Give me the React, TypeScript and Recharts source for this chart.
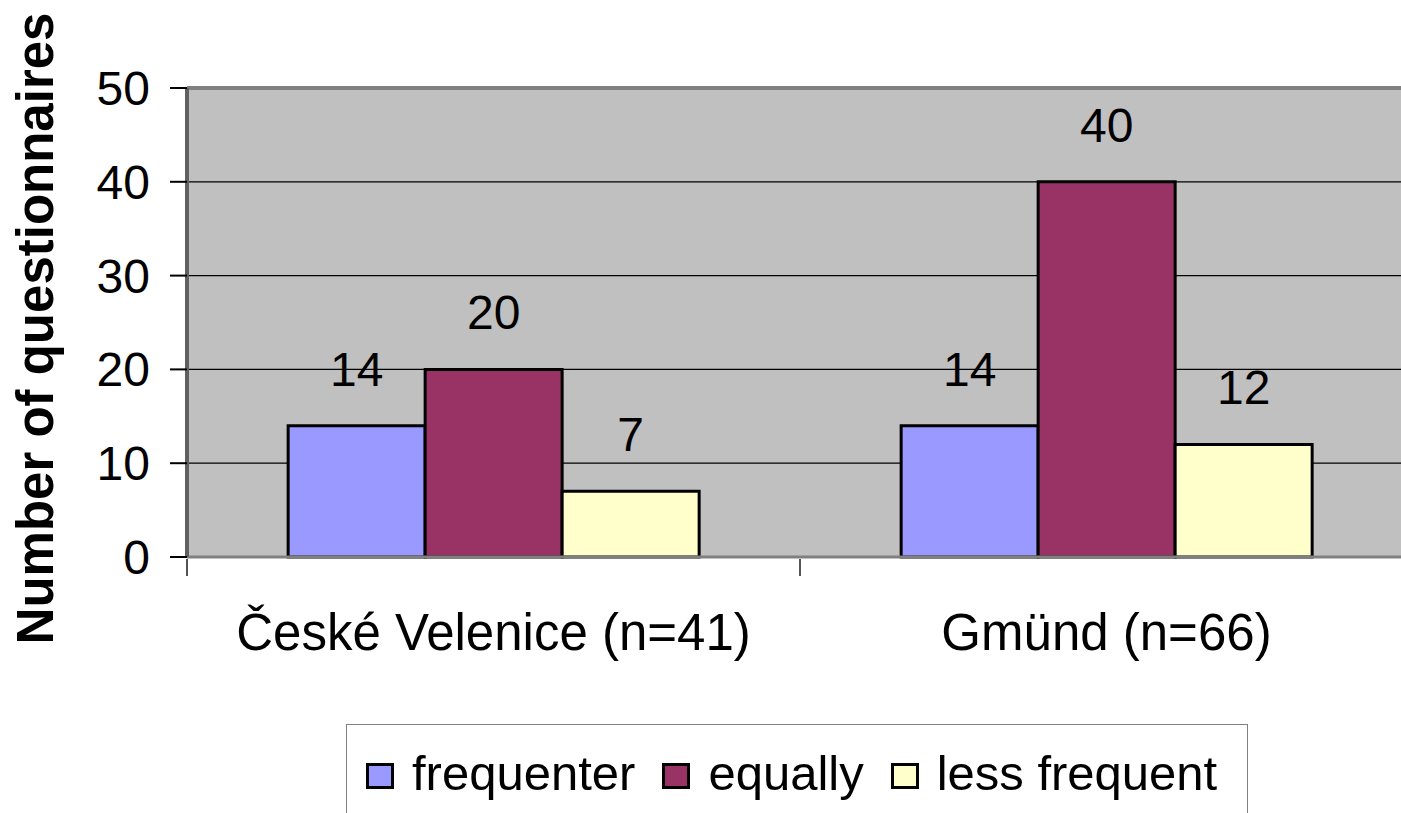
import { Bar, BarChart, CartesianGrid, Label, LabelList, Legend, ReferenceLine, XAxis, YAxis } from 'recharts'

const categories = ['České Velenice (n=41)', 'Gmünd (n=66)']
const frequenter = [14, 14]
const equally = [20, 40]
const lessFrequent = [7, 12]
const yTicks = [0, 10, 20, 30, 40, 50]

const seriesList = [
  { key: 'frequenter', name: 'frequenter', color: '#9999FF' },
  { key: 'equally', name: 'equally', color: '#993366' },
  { key: 'lessFrequent', name: 'less frequent', color: '#FFFFCC' }
]

const data = categories.map((name, i) => ({
  name,
  frequenter: frequenter[i],
  equally: equally[i],
  lessFrequent: lessFrequent[i]
}))

const FONT = '"Liberation Sans", Arial, sans-serif'
const CHART_W = 1420
const CHART_H = 860
const X_AXIS_H = 30
const MARGIN = { top: 88, right: 7, left: 0, bottom: 303 - X_AXIS_H }
const Y_AXIS_W = 187
const BAND = (CHART_W - MARGIN.left - MARGIN.right - Y_AXIS_W) / categories.length

function CategoryTick(props: any) {
  const { x, y, payload, index } = props
  const isLast = index === categories.length - 1
  return (
    <g>
      <line x1={x - BAND / 2} x2={x - BAND / 2} y1={y} y2={y + 17} stroke="#555" strokeWidth={2} />
      {isLast && (
        <line x1={x + BAND / 2} x2={x + BAND / 2} y1={y} y2={y + 17} stroke="#555" strokeWidth={2} />
      )}
      <text x={x} y={y + 91} textAnchor="middle" fontSize={51} fontFamily={FONT} fill="#000">
        {payload.value}
      </text>
    </g>
  )
}

function LegendBox() {
  return (
    <div
      style={{
        width: 902,
        height: 120,
        border: '1.5px solid #808080',
        boxSizing: 'border-box',
        display: 'flex',
        alignItems: 'flex-start',
        paddingLeft: 19,
        paddingTop: 20,
        fontFamily: FONT,
        fontSize: 49,
        color: '#000',
        background: '#fff'
      }}
    >
      {seriesList.map(s => (
        <div key={s.key} style={{ display: 'flex', alignItems: 'center', marginRight: 27 }}>
          <span
            style={{
              width: 28,
              height: 26,
              background: s.color,
              border: '3px solid #000',
              boxSizing: 'border-box',
              marginRight: 18,
              marginTop: 6
            }}
          />
          <span style={{ lineHeight: '56px' }}>{s.name}</span>
        </div>
      ))}
    </div>
  )
}

export default function App() {
  return (
    <div
      style={{
        position: 'absolute',
        left: 0,
        top: 0,
        width: 1401,
        height: 813,
        overflow: 'hidden',
        background: '#fff'
      }}
    >
      <BarChart
        width={CHART_W}
        height={CHART_H}
        data={data}
        margin={MARGIN}
        barCategoryGap="16.5%"
        barGap={0}
      >
        <CartesianGrid vertical={false} fill="#C0C0C0" stroke="#000" strokeWidth={1.2} />
        <XAxis
          dataKey="name"
          height={X_AXIS_H}
          tickSize={0}
          tickLine={false}
          tick={<CategoryTick />}
          interval={0}
          axisLine={{ stroke: '#808080', strokeWidth: 3 }}
        />
        <YAxis
          width={Y_AXIS_W}
          domain={[0, 50]}
          ticks={yTicks}
          interval={0}
          tickSize={17}
          tickMargin={20}
          tickLine={{ stroke: '#000', strokeWidth: 2 }}
          axisLine={{ stroke: '#606060', strokeWidth: 4 }}
          tick={{ fontSize: 48, fontFamily: FONT, fill: '#000' }}
        >
          <Label
            content={(p: any) => {
              const vb = p.viewBox
              const cx = 35
              const cy = vb.y + vb.height / 2 + 6
              return (
                <text
                  x={cx}
                  y={cy}
                  transform={`rotate(-90 ${cx} ${cy})`}
                  textAnchor="middle"
                  dominantBaseline="central"
                  fontSize={51}
                  fontWeight="bold"
                  fontFamily={FONT}
                  fill="#000"
                >
                  Number of questionnaires
                </text>
              )
            }}
          />
        </YAxis>
        <ReferenceLine y={50} stroke="#808080" strokeWidth={4} />
        <Legend
          layout="horizontal"
          verticalAlign="middle"
          align="center"
          wrapperStyle={{ left: 346, top: 724, width: 902 }}
          content={() => <LegendBox />}
        />
        {seriesList.map(s => (
          <Bar
            key={s.key}
            dataKey={s.key}
            name={s.name}
            fill={s.color}
            stroke="#000"
            strokeWidth={3}
            isAnimationActive={false}
          >
            <LabelList dataKey={s.key} position="top" offset={40} fontSize={48} fontFamily={FONT} fill="#000" />
          </Bar>
        ))}
      </BarChart>
    </div>
  )
}
